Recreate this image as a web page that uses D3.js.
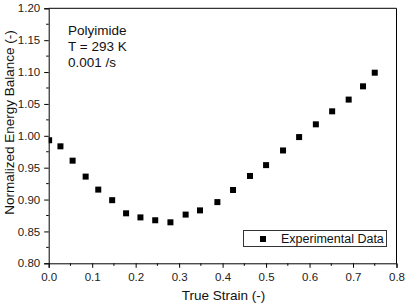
<!DOCTYPE html>
<html><head><meta charset="utf-8">
<script src="https://cdn.jsdelivr.net/npm/d3@7"></script>
<style>body{margin:0;background:#fff}svg{display:block}text{font-family:"Liberation Sans",Arial,sans-serif}</style>
</head><body><svg id="c" width="405" height="307"></svg>
<script>
const strain = [0.001,0.027,0.055,0.085,0.114,0.146,0.178,0.211,0.245,0.280,0.315,0.348,0.388,0.424,0.463,0.500,0.539,0.576,0.6145,0.652,0.690,0.723,0.750];
const balance = [0.993,0.9835,0.961,0.936,0.9156,0.899,0.8784,0.872,0.8675,0.8643,0.8764,0.883,0.896,0.915,0.937,0.954,0.977,0.998,1.018,1.0384,1.0568,1.0776,1.099];
const xTicks = [0,0.1,0.2,0.3,0.4,0.5,0.6,0.7,0.8];
const yTicks = [0.80,0.85,0.90,0.95,1.00,1.05,1.10,1.15,1.20];
const annotation = ["Polyimide","T = 293 K","0.001 /s"];
const legendLabel = "Experimental Data";

const svg = d3.select("#c");
const L=48.7,R=396.5,T=8.3,B=263.3;
const x = d3.scaleLinear().domain([0,0.8]).range([L,R]);
const y = d3.scaleLinear().domain([0.8,1.2]).range([B,T]);

const g = svg.append("g");
// minor ticks
const xMinor = d3.range(0,8).map(i=>0.05+i*0.1);
const yMinor = d3.range(0,8).map(i=>0.825+i*0.05);
g.selectAll(".xm").data(xMinor).join("line").attr("x1",d=>x(d)).attr("x2",d=>x(d)).attr("y1",B).attr("y2",B+2.5).attr("stroke","#000");
g.selectAll(".ym").data(yMinor).join("line").attr("y1",d=>y(d)).attr("y2",d=>y(d)).attr("x1",L).attr("x2",L-2.5).attr("stroke","#000");

const xa = g.append("g").attr("transform",`translate(0,${B})`).call(d3.axisBottom(x).tickValues(xTicks).tickFormat(d3.format(".1f")).tickSize(4.5).tickPadding(3));
const ya = g.append("g").attr("transform",`translate(${L},0)`).call(d3.axisLeft(y).tickValues(yTicks).tickFormat(d3.format(".2f")).tickSize(4.5).tickPadding(4));
[xa,ya].forEach(a=>{a.selectAll("text").attr("font-size","11.5px").attr("fill","#222").style("font-family","'Liberation Sans',Arial,sans-serif");a.select(".domain").attr("stroke","#000");a.selectAll(".tick line").attr("stroke","#000");});
xa.selectAll("text").attr("dy","0.9em");

// top and right border
g.append("line").attr("x1",L).attr("x2",R).attr("y1",T).attr("y2",T).attr("stroke","#000");
g.append("line").attr("x1",R).attr("x2",R).attr("y1",T).attr("y2",B).attr("stroke","#000");

// points
g.append("defs").append("clipPath").attr("id","pc").append("rect").attr("x",L).attr("y",T).attr("width",R-L).attr("height",B-T);
g.append("g").attr("clip-path","url(#pc)").selectAll("rect").data(strain).join("rect")
 .attr("x",(d)=>x(d)-3).attr("y",(d,i)=>y(balance[i])-3).attr("width",6).attr("height",6).attr("fill","#000");

// annotation
g.selectAll(".ann").data(annotation).join("text").attr("x",68).attr("y",(d,i)=>35+i*16).attr("font-size","13.5px").attr("fill","#111").text(d=>d);

// legend
g.append("rect").attr("x",243.5).attr("y",230.5).attr("width",143).attr("height",16).attr("fill","#fff").attr("stroke","#333");
g.append("rect").attr("x",260).attr("y",236).attr("width",6).attr("height",6).attr("fill","#000");
g.append("text").attr("x",281).attr("y",243).attr("font-size","12.5px").attr("fill","#111").text(legendLabel);

// axis titles
g.append("text").attr("x",223.5).attr("y",300).attr("text-anchor","middle").attr("font-size","13.5px").attr("fill","#111").text("True Strain (-)");
g.append("text").attr("transform",`translate(14,122.5) rotate(-90)`).attr("text-anchor","middle").attr("font-size","13.5px").attr("fill","#111").text("Normalized Energy Balance (-)");
</script></body></html>
